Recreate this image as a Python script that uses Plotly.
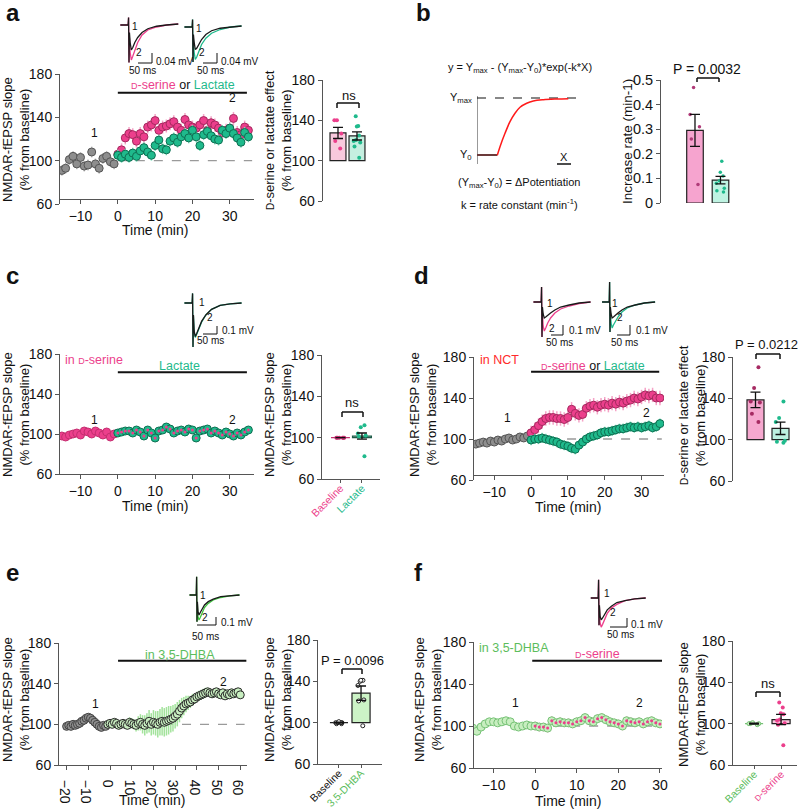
import plotly.graph_objects as go

W, H = 799, 809
FONT = "Liberation Sans, Arial, Helvetica, sans-serif"

PINK, PINK_DK, PINK_ERR = "#ec3f8c", "#a52a5f", "#f5a3c7"
GREEN, GREEN_DK, GREEN_ERR = "#1fba8c", "#0e6f52", "#85e0c0"
GRAY, GRAY_DK, GRAY_ERR = "#8e8e8e", "#555555", "#c4c4c4"
LGREEN, LGREEN_DK, LGREEN_TXT, LGREEN_ERR = "#c8eec0", "#76c276", "#5cbd5c", "#a3e39c"
RED_TXT = "#ff2a2a"

# ---------------- time courses ----------------
t_base15 = list(range(-15, 0))
t_drug35 = list(range(0, 36))

a_base = [91, 93, 101, 104, 97, 103, 95, 96, 108, 97, 93, 102, 104, 99, 97]
a_dser = [106, 110, 121, 125, 124, 118, 125, 122, 131, 133, 137, 128, 131, 132, 134, 136, 131, 128,
          138, 133, 131, 130, 133, 137, 128, 135, 133, 130, 126, 128, 130, 139, 126, 124, 131, 128]
a_lac = [105, 103, 106, 103, 107, 104, 109, 112, 108, 105, 114, 119, 111, 110, 118, 121, 117, 122,
         125, 121, 128, 122, 114, 124, 127, 123, 120, 119, 128, 125, 130, 125, 121, 117, 126, 122]

c_dser_base = [98, 97, 99, 100, 101, 99, 103, 102, 100, 103, 101, 99, 102, 97, 100]
c_lac = [101, 102, 103, 103, 101, 104, 102, 98, 104, 101, 96, 103, 104, 107, 105, 101, 103, 104,
         102, 105, 104, 96, 103, 104, 105, 101, 103, 101, 99, 102, 100, 98, 101, 99, 102, 104]

d_base = [95, 96, 97, 96, 98, 97, 99, 98, 100, 101, 99, 100, 102, 101, 103]
d_dser = [106, 109, 113, 117, 120, 121, 121, 120, 120, 119, 121, 129, 125, 123, 124, 130, 132, 133,
          131, 133, 134, 133, 135, 134, 136, 135, 137, 138, 140, 139, 141, 143, 142, 143, 140, 140]
d_lac = [99, 100, 100, 101, 100, 99, 98, 97, 95, 94, 93, 91, 90, 94, 97, 100, 102, 103,
         104, 106, 107, 107, 108, 109, 110, 110, 111, 112, 111, 112, 111, 112, 113, 111, 112, 115]

e_base_t = list(range(-20, -1))
e_base = [98, 99, 98, 100, 99, 100, 101, 103, 104, 106, 107, 106, 104, 102, 100, 98, 97, 99, 98]
e_dhba_t = list(range(-1, 61))
e_dhba = [100, 101, 100, 102, 101, 99, 100, 101, 100, 99, 102, 101, 100, 99, 101, 102, 100, 99,
          101, 103, 100, 102, 101, 100, 102, 103, 102, 103, 104, 105, 106, 108, 110, 113, 116, 118,
          120, 121, 122, 124, 125, 127, 128, 129, 130, 131, 132, 131, 130, 131, 132, 130, 129, 131,
          128, 130, 129, 131, 130, 131, 132, 129]
e_dhba_sem = [3, 3, 3, 3, 4, 4, 4, 4, 4, 4, 5, 5,
              5, 6, 7, 8, 9, 10, 10, 11, 11, 12,
              12, 13, 13, 14, 14, 14, 14, 13, 13, 12,
              12, 11, 10, 9, 8, 7, 6, 6, 5, 5,
              5, 5, 5, 5, 4, 4, 4, 4, 4, 4,
              4, 4, 4, 4, 4, 4, 4, 4, 4, 4]

t_drug30 = list(range(0, 31))
f_dhba_base = [98, 95, 99, 102, 104, 104, 103, 104, 105, 104, 100, 99, 100, 101, 100]
f_dser = [100, 99, 99, 98, 105, 103, 104, 103, 103, 102, 104, 105, 108, 105, 104, 107, 108, 106,
          104, 103, 102, 100, 105, 104, 103, 104, 102, 104, 105, 103, 102]

# ---------------- bar summaries ----------------
a_means, a_sems = [127.5, 124.5], [5.5, 4]
a_dser_dots = [140, 140, 127, 119.5, 112]
a_lac_dots = [144, 134, 134.5, 125, 120.5, 119.5, 118, 114, 103]

b_means, b_sems = [0.295, 0.093], [0.065, 0.015]
b_dser_dots = [0.47, 0.36, 0.31, 0.26, 0.075]
b_lac_dots = [0.17, 0.125, 0.11, 0.09, 0.08, 0.06, 0.05, 0.045]

c_means, c_sems = [100, 101.5], [0, 3]
c_base_dots = [100, 100, 100, 100, 100, 100]
c_lac_dots = [112, 110, 104, 102, 101, 82]

d_means, d_sems = [138.5, 111], [7.5, 6]
d_dser_dots = [170, 150, 137, 136, 125, 117]
d_lac_dots = [137, 121, 117, 99, 97, 98]

e_means, e_sems = [100, 128.5], [0.5, 7]
e_base_dots = [99, 100, 100, 101, 100, 99, 100]
e_dhba_dots = [141, 140, 141, 136, 122, 121, 97]

f_means, f_sems = [100, 104], [0.5, 5]
f_base_dots = [100, 99, 100, 101, 100]
f_dser_dots = [120.5, 115.7, 110, 109, 104, 103, 100.5, 99, 79]

# ---------------- schematic curve (panel b) ----------------
schem_x = [20.3, 23, 28, 33, 38, 43, 49.7, 56.3, 66.3, 79.7, 91.3]
schem_y = [10.7, 19.3, 32.7, 44.3, 52.7, 58.7, 62.7, 65, 66.3, 67, 67.3]

# ---------------- sample traces (ms, mV) ----------------
wave_ms = [-30, -3, -1.5, 0, 1.5, 4, 8, 13, 20, 30, 45, 65, 95, 130, 170]
a1_ctrl = [0, 0, 0.03, -0.15, -0.03, -0.07, -0.10, -0.09, -0.07, -0.05, -0.03, -0.015, -0.005, 0, 0.004]
a1_dser = [0, 0, 0.03, -0.15, -0.05, -0.11, -0.14, -0.125, -0.10, -0.07, -0.04, -0.02, -0.008, 0, 0.004]
a2_ctrl = [0, 0, 0.03, -0.14, -0.03, -0.06, -0.09, -0.085, -0.07, -0.05, -0.03, -0.015, -0.005, 0, 0.004]
a2_lac = [0, 0, 0.03, -0.14, -0.05, -0.10, -0.13, -0.12, -0.10, -0.07, -0.045, -0.025, -0.01, 0, 0.004]
c_ctrl = [0, 0, 0.12, -0.55, -0.15, -0.35, -0.42, -0.38, -0.31, -0.23, -0.15, -0.08, -0.03, -0.01, 0]
c_lact = [0, 0, 0.12, -0.55, -0.16, -0.36, -0.43, -0.39, -0.32, -0.24, -0.15, -0.08, -0.03, -0.01, 0]
d1_ctrl = [0, 0, 0.15, -0.35, -0.05, -0.12, -0.16, -0.15, -0.13, -0.11, -0.08, -0.05, -0.03, -0.01, 0]
d1_dser = [0, 0, 0.15, -0.35, -0.10, -0.24, -0.29, -0.26, -0.21, -0.16, -0.11, -0.07, -0.04, -0.015, 0]
d2_ctrl = [0, 0, 0.20, -0.30, -0.05, -0.12, -0.16, -0.15, -0.13, -0.11, -0.08, -0.05, -0.03, -0.01, 0]
d2_lac = [0, 0, 0.20, -0.30, -0.09, -0.21, -0.26, -0.23, -0.19, -0.15, -0.10, -0.06, -0.03, -0.01, 0]
e_ctrl = [0, 0, 0.22, -0.32, -0.08, -0.20, -0.24, -0.21, -0.17, -0.12, -0.08, -0.05, -0.02, -0.01, 0]
e_dhb = [0, 0, 0.22, -0.32, -0.10, -0.26, -0.30, -0.27, -0.21, -0.15, -0.10, -0.06, -0.03, -0.01, 0]
f_ctrl = [0, 0, 0.20, -0.30, -0.08, -0.20, -0.24, -0.22, -0.18, -0.13, -0.09, -0.05, -0.03, -0.01, 0]
f_dsr = [0, 0, 0.20, -0.30, -0.10, -0.27, -0.32, -0.29, -0.24, -0.17, -0.11, -0.07, -0.03, -0.01, 0]

fig = go.Figure()
shapes, annots = [], []


def ref(n, k):
    return k if n == 1 else f"{k}{n}"


def add_axes(n, x0, x1, y0, y1, xa, ya):
    fig.update_layout(**{
        ("xaxis" if n == 1 else f"xaxis{n}"): {"domain": [x0 / W, x1 / W], "anchor": ref(n, "y"),
                                                "automargin": False, **xa},
        ("yaxis" if n == 1 else f"yaxis{n}"): {"domain": [1 - y1 / H, 1 - y0 / H], "anchor": ref(n, "x"),
                                                "automargin": False, **ya},
    })


AX = dict(showline=True, linecolor="#555", linewidth=1, ticks="outside", ticklen=4, tickwidth=1,
          tickcolor="#555", showgrid=False, zeroline=False, fixedrange=True,
          tickfont=dict(family=FONT, size=14, color="#111"))
HID = dict(visible=False, fixedrange=True)
YT = dict(AX, range=[60, 180], tickvals=[60, 100, 140, 180])


def ptext(x, y, s, size=14, color="#111", xanchor="center", angle=0):
    annots.append(dict(x=x / W, y=1 - y / H, xref="paper", yref="paper", text=s, showarrow=False,
                       xanchor=xanchor, yanchor="middle", textangle=angle,
                       font=dict(family=FONT, size=size, color=color)))


def dtext(n, x, y, s, size=14, color="#111", xanchor="center"):
    annots.append(dict(x=x, y=y, xref=ref(n, "x"), yref=ref(n, "y"), text=s, showarrow=False,
                       xanchor=xanchor, yanchor="middle", font=dict(family=FONT, size=size, color=color)))


def pline(x0, y0, x1, y1, color="#111", width=1):
    shapes.append(dict(type="line", xref="paper", yref="paper", x0=x0 / W, y0=1 - y0 / H,
                       x1=x1 / W, y1=1 - y1 / H, line=dict(color=color, width=width)))


def dline(n, x0, y0, x1, y1, color="#111", width=2, dash=None, layer="above"):
    shapes.append(dict(type="line", xref=ref(n, "x"), yref=ref(n, "y"), x0=x0, y0=y0, x1=x1, y1=y1,
                       layer=layer, line=dict(color=color, width=width, dash=dash)))


def bracket(x0, x1, ytop, ybot):
    pline(x0, ybot, x0, ytop, width=1.5)
    pline(x0, ytop, x1, ytop, width=1.5)
    pline(x1, ytop, x1, ybot, width=1.5)


def series(n, t, y, fill, edge, err, errcolor, size=8, ew=1):
    e = dict(type="data", array=err, color=errcolor, thickness=1.5, width=0) if isinstance(err, list) \
        else dict(type="constant", value=err, color=errcolor, thickness=1.5, width=0)
    fig.add_trace(go.Scatter(x=t, y=y, mode="markers", xaxis=ref(n, "x"), yaxis=ref(n, "y"),
                             marker=dict(size=size, color=fill, line=dict(color=edge, width=ew)),
                             error_y=e, hoverinfo="skip"))


def centre_dots(n, t, y, color):
    fig.add_trace(go.Scatter(x=t, y=y, mode="markers", xaxis=ref(n, "x"), yaxis=ref(n, "y"),
                             marker=dict(size=3, color=color), hoverinfo="skip"))


def bars(n, means, sems, width, fills, outlines, base=100):
    fig.add_trace(go.Bar(x=[0, 1], y=[m - base for m in means], base=base, width=width,
                         xaxis=ref(n, "x"), yaxis=ref(n, "y"),
                         marker=dict(color=fills, line=dict(color=outlines, width=1.2)), hoverinfo="skip"))
    fig.add_trace(go.Scatter(x=[0, 1], y=means, mode="markers", xaxis=ref(n, "x"), yaxis=ref(n, "y"),
                             marker=dict(size=1, color="rgba(0,0,0,0)"),
                             error_y=dict(type="data", array=sems, color="#111", thickness=1.3, width=5),
                             hoverinfo="skip"))


def dots(n, pos, vals, color, edge=None, size=4):
    fig.add_trace(go.Box(x=[pos] * len(vals), y=vals, boxpoints="all", jitter=0.9, pointpos=0, width=0.5,
                         fillcolor="rgba(0,0,0,0)", line=dict(width=0, color="rgba(0,0,0,0)"),
                         xaxis=ref(n, "x"), yaxis=ref(n, "y"), hoverinfo="skip",
                         marker=dict(size=size, color=color,
                                     line=dict(width=1 if edge else 0, color=edge or color))))


def inset(n, art_px, base_py, ms_px, mv_px, ylo, yhi, ctrl, drug, dcolor):
    add_axes(n, art_px - 35 / ms_px, art_px + 175 / ms_px, base_py - yhi / mv_px, base_py - ylo / mv_px,
             dict(HID, range=[-35, 175]), dict(HID, range=[ylo, yhi]))
    for ys, col in ((drug, dcolor), (ctrl, "#1a1a1a")):
        fig.add_trace(go.Scatter(x=wave_ms, y=ys, mode="lines", line=dict(color=col, width=1.3),
                                 xaxis=ref(n, "x"), yaxis=ref(n, "y"), hoverinfo="skip"))


def scalebar(hx0, hx1, hy, vtop, mv_label, ms_x, ms_y, mv_x, mv_y):
    pline(hx0, hy, hx1, hy, width=1)
    pline(hx1, vtop, hx1, hy, width=1)
    ptext(mv_x, mv_y, mv_label, size=10, xanchor="left")
    ptext(ms_x, ms_y, "50 ms", size=10)


def ds(size, color=PINK):
    return f"<span style='color:{color}'><span style='font-size:{size * 0.75:.0f}px'>D</span>-serine</span>"


def cat_axis(xr, labels):
    return dict(AX, range=xr, tickvals=[0, 1], tickangle=-45, ticktext=labels, ticklen=3,
                ticklabelstandoff=-5, tickfont=dict(family=FONT, size=10.5, color="#111"))


XT35 = dict(AX, range=[-15.5, 36.5], tickvals=[-10, 0, 10, 20, 30])
NM = "NMDAR-fEPSP slope<br>(% from baseline)"
TS = 13
LS = 12.5

# ================= panel a =================
add_axes(1, 60, 254, 74, 204, dict(XT35, anchor="free", position=1 - 199 / H), YT)
dline(1, 0, 100, 36, 100, color="#9a9a9a", width=1.3, dash="dash", layer="below")
series(1, t_base15, a_base, GRAY, GRAY_DK, 5, GRAY_ERR)
series(1, t_drug35, a_dser, PINK, PINK_DK, 6, PINK_ERR)
series(1, t_drug35, a_lac, GREEN, GREEN_DK, 5, GREEN_ERR)
dline(1, 0, 162.7, 34.6, 162.7)
dtext(1, 17.5, 170, ds(LS) + " or <span style='color:%s'>Lactate</span>" % GREEN, size=LS)
dtext(1, -6.2, 125.5, "1", size=12)
dtext(1, 30.8, 158, "2", size=12)
ptext(16, 140, NM, size=TS, angle=-90)
ptext(155, 230, "Time (min)")

add_axes(2, 322.7, 372, 80, 201, dict(HID, range=[-0.805, 1.79]), YT)
bars(2, a_means, a_sems, 0.84, ["#f8c9dd", "#c5efe0"], ["#222", "#222"])
dots(2, 0, a_dser_dots, PINK)
dots(2, 1, a_lac_dots, GREEN)
bracket(337, 359, 103, 108)
ptext(349, 95, "ns", size=13)
ptext(278, 140, ds(TS, "#111") + " or lactate effect<br>(% from baseline)", size=TS, angle=-90)

inset(13, 129, 25, 3.45, 0.004, -0.17, 0.05, a1_ctrl, a1_dser, PINK)
inset(14, 193, 27, 3.5, 0.004, -0.17, 0.05, a2_ctrl, a2_lac, GREEN)
scalebar(138, 152, 63, 53, "0.04 mV", 142, 70, 154, 61)
scalebar(203, 217, 63, 53, "0.04 mV", 210, 70, 219, 61)
ptext(135, 26, "1", size=10)
ptext(139, 53, "2", size=10)
ptext(199, 29, "1", size=10)
ptext(202, 53, "2", size=10)

# ================= panel b =================
add_axes(3, 477, 582, 96, 166, dict(HID, range=[0, 105]), dict(HID, range=[0, 70]))
for xs, ys, col, w, dsh in (([0, 0], [2, 70], "#777", 1.5, None), ([0, 105], [68, 68], "#111", 1.2, "dash"),
                            ([0, 20.3], [11, 11], "#6b3a3a", 2, None), ([80, 94], [2, 2], "#111", 1.5, None)):
    fig.add_trace(go.Scatter(x=xs, y=ys, mode="lines", line=dict(color=col, width=w, dash=dsh),
                             xaxis="x3", yaxis="y3", hoverinfo="skip"))
fig.add_trace(go.Scatter(x=schem_x, y=schem_y, mode="lines", line=dict(color="#ff1a1a", width=1.5, shape="spline"),
                         xaxis="x3", yaxis="y3", hoverinfo="skip"))
ptext(520, 68, "y = Y<sub>max</sub> - (Y<sub>max</sub>-Y<sub>0</sub>)*exp(-k*X)", size=11)
ptext(474, 98, "Y<sub>max</sub>", size=11, xanchor="right")
ptext(474, 155, "Y<sub>0</sub>", size=11, xanchor="right")
ptext(564, 157, "X", size=11)
ptext(519, 183, "(Y<sub>max</sub>-Y<sub>0</sub>) = \u0394Potentiation", size=11)
ptext(519, 204, "k = rate constant (min<sup>-1</sup>)", size=11)

add_axes(4, 661, 740, 80, 203, dict(HID, range=[-1.333, 1.765]),
         dict(AX, range=[0, 0.5], tickvals=[0, 0.1, 0.2, 0.3, 0.4, 0.5],
              ticktext=["0", "0.1", "0.2", "0.3", "0.4", "0.5"], tickfont=dict(family=FONT, size=14.5, color="#111")))
bars(4, b_means, b_sems, 0.65, ["#f6a4cf", "#bff3e2"], ["#222", "#222"], base=0)
dots(4, 0, b_dser_dots, "#b03a78", size=3.5)
dots(4, 1, b_lac_dots, GREEN, size=3.5)
bracket(697, 719, 78, 82)
ptext(707, 69, "P = 0.0032", size=14)
ptext(628, 142, "Increase rate (min-1)", size=13.5, angle=-90)

# ================= panel c =================
add_axes(5, 60, 254, 354, 474, XT35, YT)
series(5, t_base15, c_dser_base, PINK, "#c42f70", 1.5, PINK_ERR)
series(5, t_drug35, c_lac, GREEN, GREEN_DK, 3, GREEN_ERR)
centre_dots(5, t_drug35, c_lac, PINK)
dline(5, 0, 161.7, 34.6, 161.7)
dtext(5, 16.6, 168, "Lactate", size=LS, color=GREEN)
dtext(5, -14.7, 174, "in " + ds(LS), size=LS, color=PINK, xanchor="left")
dtext(5, -6.2, 114, "1", size=12)
dtext(5, 30.8, 114, "2", size=12)
ptext(16, 415, NM, size=TS, angle=-90)
ptext(155, 506, "Time (min)")

add_axes(6, 322, 380, 355, 479,
         cat_axis([-0.86, 1.84], [f"<span style='color:{PINK}'>Baseline</span>",
                                  f"<span style='color:{GREEN}'>Lactate</span>"]), YT)
bars(6, c_means, c_sems, 0.88, ["#f8c9dd", "#c5efe0"], ["#c42f70", "#1d5a47"])
dots(6, 0, c_base_dots, "#c42f70")
dots(6, 1, c_lac_dots, GREEN)
bracket(342, 363, 412, 417)
ptext(352, 402, "ns", size=13)
ptext(278, 415, NM, size=TS, angle=-90)

inset(15, 193, 303, 3.5, 0.0125, -0.6, 0.2, c_ctrl, c_lact, GREEN)
scalebar(203, 217, 334, 326, "0.1 mV", 210, 340, 220, 330)
ptext(202, 302, "1", size=10)
ptext(210, 318, "2", size=10)

# ================= panel d =================
add_axes(7, 474, 664, 357, 480,
         dict(AX, range=[-15.5, 36.1], tickvals=[-10, 0, 10, 20, 30], anchor="free", position=1 - 475 / H), YT)
dline(7, 0, 100, 35.5, 100, color="#9a9a9a", width=1.3, dash="dash", layer="below")
series(7, t_base15, d_base, GRAY, GRAY_DK, 3, GRAY_ERR)
series(7, t_drug35, d_dser, PINK, PINK_DK, 7, PINK_ERR)
series(7, t_drug35, d_lac, GREEN, GREEN_DK, 5, GREEN_ERR)
dline(7, 0, 165.7, 34.8, 165.7)
dtext(7, 16.8, 171, ds(LS) + " or <span style='color:%s'>Lactate</span>" % GREEN, size=LS)
dtext(7, -14.4, 177, "in NCT", size=LS, color=RED_TXT, xanchor="left")
dtext(7, -6.5, 120.5, "1", size=12)
dtext(7, 31.3, 125.4, "2", size=12)
ptext(423, 415, NM, size=TS, angle=-90)
ptext(568, 507, "Time (min)")

add_axes(8, 733, 797, 357, 481, dict(HID, range=[-0.9, 1.66]), YT)
bars(8, d_means, d_sems, 0.68, ["#f6a8cf", "#bdf0e0"], ["#222", "#222"])
dots(8, 0, d_dser_dots, "#a62a62")
dots(8, 1, d_lac_dots, GREEN)
bracket(756, 780, 354, 359)
ptext(766, 345, "P = 0.0212", size=13)
ptext(692, 415, ds(TS, "#111") + " or lactate effect<br>(% from baseline)", size=TS, angle=-90)

inset(16, 542, 302, 3.5, 0.01, -0.4, 0.2, d1_ctrl, d1_dser, PINK)
inset(17, 610, 302, 3.77, 0.01, -0.4, 0.22, d2_ctrl, d2_lac, GREEN)
scalebar(551, 563, 335, 325, "0.1 mV", 559, 342, 567, 330)
scalebar(617, 630, 335, 325, "0.1 mV", 624, 342, 634, 330)
ptext(550, 303, "1", size=10)
ptext(552, 328, "2", size=10)
ptext(615, 303, "1", size=10)
ptext(620, 318, "2", size=10)

# ================= panel e =================
add_axes(9, 59, 247, 643, 765, dict(AX, range=[-23.5, 63.1], tickvals=list(range(-20, 61, 10))), YT)
dline(9, 0, 100, 62, 100, color="#9a9a9a", width=1.3, dash="dash", layer="below")
series(9, e_base_t, e_base, GRAY, "#444", 2, GRAY_ERR)
series(9, e_dhba_t, e_dhba, LGREEN, "#2a2a2a", e_dhba_sem, LGREEN_ERR)
dline(9, 3.7, 162.6, 62.8, 162.6)
dtext(9, 32.3, 168.2, "in 3,5-DHBA", size=LS, color=LGREEN_TXT)
dtext(9, -6.9, 120, "1", size=12)
dtext(9, 52.5, 141.6, "2", size=12)
ptext(16, 700, NM, size=TS, angle=-90)
ptext(152, 800, "Time (min)")

add_axes(10, 318, 382, 640, 764,
         cat_axis([-0.95, 1.95], ["<span style='color:#111'>Baseline</span>",
                                  f"<span style='color:{LGREEN_TXT}'>3,5-DHBA</span>"]), YT)
bars(10, e_means, e_sems, 0.82, ["#ffffff", "#ccf3c6"], ["#222", "#222"])
dots(10, 0, e_base_dots, "#ffffff", edge="#222", size=4)
dots(10, 1, e_dhba_dots, "#ffffff", edge="#222", size=4)
bracket(342, 362, 669, 674)
ptext(352, 660, "P = 0.0096", size=13)
ptext(278, 700, NM, size=TS, angle=-90)

inset(18, 197, 595, 4.0, 0.012, -0.4, 0.25, e_ctrl, e_dhb, "#3fc43f")
scalebar(197, 216, 625, 617, "0.1 mV", 205, 636, 219, 622)
ptext(203, 595, "1", size=10)
ptext(205, 617, "2", size=10)

# ================= panel f =================
add_axes(11, 474, 662, 642, 768, dict(AX, range=[-14.7, 30.5], tickvals=[-10, 0, 10, 20, 30]), YT)
dline(11, 0, 100, 30.5, 100, color="#9a9a9a", width=1.3, dash="dash", layer="below")
series(11, t_base15, f_dhba_base, LGREEN, LGREEN_DK, 1.5, LGREEN_ERR)
series(11, t_drug30, f_dser, LGREEN, LGREEN_DK, 4, "#f37aae")
centre_dots(11, t_drug30, f_dser, PINK)
dline(11, -0.7, 162.2, 30.5, 162.2)
dtext(11, 14.9, 168.6, ds(LS), size=LS)
dtext(11, -13.9, 174.3, "in 3,5-DHBA", size=LS, color=LGREEN_TXT, xanchor="left")
dtext(11, -4.8, 122, "1", size=12)
dtext(11, 25.2, 122, "2", size=12)
ptext(428, 700, NM, size=TS, angle=-90)
ptext(568, 801, "Time (min)")

add_axes(12, 733, 797, 641, 765,
         cat_axis([-0.78, 1.59], [f"<span style='color:{LGREEN_TXT}'>Baseline</span>", ds(10.5)]), YT)
bars(12, f_means, f_sems, 0.67, ["#ffffff", "#f8c6dd"], [LGREEN_DK, "#222"])
dots(12, 0, f_base_dots, LGREEN, edge=LGREEN_DK, size=4)
dots(12, 1, f_dser_dots, PINK)
bracket(756, 780, 692, 697)
ptext(768, 683, "ns", size=13)
ptext(692, 705, NM, size=TS, angle=-90)

inset(19, 599, 598, 3.64, 0.011, -0.4, 0.25, f_ctrl, f_dsr, PINK)
scalebar(610, 627, 627, 618, "0.1 mV", 620, 634, 629, 624)
ptext(607, 593, "1", size=10)
ptext(613, 612, "2", size=10)

# panel letters
for lx, ly, lt in ((4, 13, "a"), (414, 13, "b"), (4, 275, "c"), (412, 275, "d"), (4, 572, "e"), (412, 572, "f")):
    ptext(lx, ly, f"<b>{lt}</b>", size=24, xanchor="left")

fig.update_layout(width=W, height=H, margin=dict(l=0, r=0, t=0, b=0, autoexpand=False), showlegend=False,
                  paper_bgcolor="white", plot_bgcolor="rgba(0,0,0,0)", font=dict(family=FONT, color="#111"),
                  shapes=shapes, annotations=annots, barmode="overlay", boxmode="overlay")

fig.write_html("out.html", config={"displayModeBar": False},
               post_script="document.body.style.margin='0';")
